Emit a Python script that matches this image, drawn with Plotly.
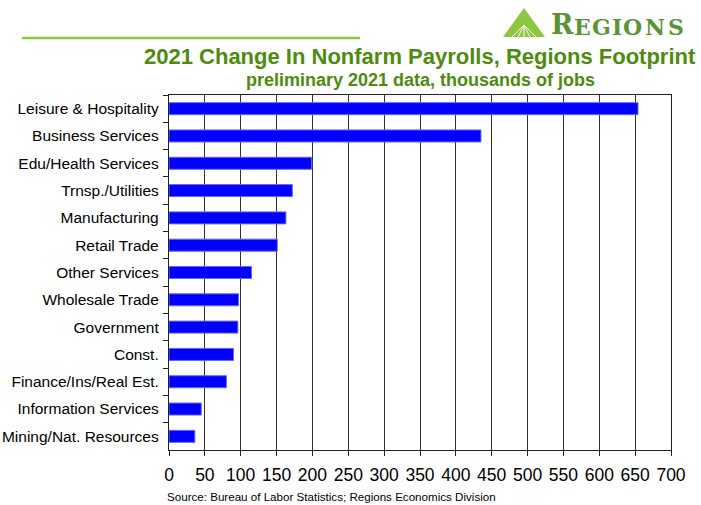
import plotly.graph_objects as go

categories = ["Leisure & Hospitality", "Business Services", "Edu/Health Services",
              "Trnsp./Utilities", "Manufacturing", "Retail Trade", "Other Services",
              "Wholesale Trade", "Government", "Const.", "Finance/Ins/Real Est.",
              "Information Services", "Mining/Nat. Resources"]
values = [654, 435, 199, 172, 163, 151, 115, 97, 96, 90, 80, 45, 36]
x_ticks = list(range(0, 701, 50))
logo_letters = ["R", "E", "G", "I", "O", "N", "S"]

W, H = 701, 505
L, R, T, B = 169, 30, 95, 55
pw, ph = W - L - R, H - T - B

def px(x):
    return (x - L) / pw

def py(y):
    return (H - B - y) / ph

fig = go.Figure(go.Bar(
    y=categories, x=values, orientation="h",
    marker=dict(color="#0000FF", line=dict(color="#6666FF", width=1)),
    width=0.44,
))

green = "#4E8B0F"
fig.update_layout(
    width=W, height=H,
    margin=dict(l=L, r=R, t=T, b=B, autoexpand=False),
    paper_bgcolor="white", plot_bgcolor="white",
    font=dict(family="Arial, Liberation Sans, sans-serif", color="black"),
    showlegend=False,
)
fig.update_xaxes(
    range=[0, 700], tickvals=x_ticks, ticktext=[str(v) for v in x_ticks],
    showgrid=True, gridcolor="#333", gridwidth=1,
    showline=True, linecolor="#222", linewidth=1.3, mirror=True,
    ticks="outside", ticklen=5, tickcolor="#222",
    tickfont=dict(size=17.5, color="black"), zeroline=False,
    ticklabelstandoff=4, automargin=False,
)
fig.update_yaxes(
    categoryorder="array", categoryarray=categories, autorange="reversed",
    showline=True, linecolor="#222", linewidth=1.3, mirror=True,
    ticks="outside", ticklen=5, tickcolor="#222", tickson="boundaries",
    tickfont=dict(size=15.5, color="black"), showgrid=False,
    ticklabelstandoff=6, automargin=False,
)

annotations = [
    dict(text="<b>2021 Change In Nonfarm Payrolls, Regions Footprint</b>",
         x=px(698), y=py(57), xanchor="right", yanchor="middle",
         font=dict(size=22, color=green)),
    dict(text="<b>preliminary 2021 data, thousands of jobs</b>",
         x=px(420), y=py(80), xanchor="center", yanchor="middle",
         font=dict(size=18, color=green)),
    dict(text="Source: Bureau of Labor Statistics; Regions Economics Division",
         x=px(165), y=py(496), xanchor="left", yanchor="middle",
         font=dict(size=11.6, color="black")),
]
letter_x = [562, 582, 601, 616.5, 632, 654.5, 675.5]
for ch, lx in zip(logo_letters, letter_x):
    big = ch == "R"
    annotations.append(dict(
        text=f"<b>{ch}</b>", x=px(lx), y=py(37), xanchor="center", yanchor="bottom",
        font=dict(size=27 if big else 22, color="#5A9436",
                  family="DejaVu Serif, Liberation Serif, serif"),
        yshift=-5,
    ))
for a in annotations:
    a.update(xref="paper", yref="paper", showarrow=False)
fig.update_layout(annotations=annotations)

shapes = [
    dict(type="line", x0=px(22), x1=px(360), y0=py(38), y1=py(38),
         line=dict(color="#8DC63F", width=2.5)),
    dict(type="path",
         path=f"M {px(503)},{py(37)} L {px(524)},{py(8)} L {px(545)},{py(37)} Z",
         fillcolor="#8DC63F", line=dict(color="#8DC63F", width=0)),
]
for bx in [512, 518, 524, 530, 536]:
    shapes.append(dict(type="line", x0=px(524), y0=py(25), x1=px(bx), y1=py(37),
                       line=dict(color="white", width=1)))
for s in shapes:
    s.update(xref="paper", yref="paper", layer="above")
fig.update_layout(shapes=shapes)

fig.write_html("out.html")
